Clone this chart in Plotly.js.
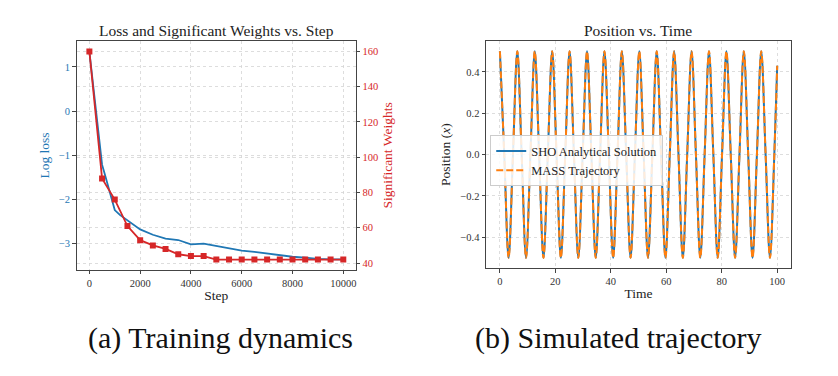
<!DOCTYPE html>
<html><head><meta charset="utf-8">
<script src="https://cdn.plot.ly/plotly-3.0.1.min.js"></script>
<style>html,body{margin:0;padding:0;background:#fff}#chart{width:838px;height:376px}</style>
</head><body><div id="chart"></div>
<script>
// (a) Training dynamics
const lossSteps = [0,100,200,300,400,500,600,700,800,900,1000,1200,1500,2000,2500,3000,3500,4000,4500,5000,5500,6000,6500,7000,7500,8000,8500,9000,9500,10000];
const logLoss   = [1.35,0.85,0.33,-0.2,-0.72,-1.22,-1.42,-1.62,-1.84,-2.05,-2.25,-2.36,-2.49,-2.69,-2.81,-2.90,-2.93,-3.03,-3.01,-3.06,-3.11,-3.17,-3.20,-3.24,-3.28,-3.31,-3.33,-3.36,-3.37,-3.37];
const weightSteps = [0,500,1000,1500,2000,2500,3000,3500,4000,4500,5000,5500,6000,6500,7000,7500,8000,8500,9000,9500,10000];
const sigWeights  = [160,88,76,61,53,50,48,45,44,44,42,42,42,42,42,42,42,42,42,42,42];
const stepTicks = [0,2000,4000,6000,8000,10000];
const stepTickLabels = ['0','2000','4000','6000','8000','10000'];
const lossTicks = [-3,-2,-1,0,1];
const weightTicks = [40,60,80,100,120,140,160];

// (b) Simulated trajectory: extrema and zero crossings
const time = [0,1.57,3.14,4.71,6.28,7.85,9.42,11.00,12.57,14.14,15.71,17.28,18.85,20.42,21.99,23.56,25.13,26.70,28.27,29.85,31.42,32.99,34.56,36.13,37.70,39.27,40.84,42.41,43.98,45.55,47.12,48.69,50.27,51.84,53.41,54.98,56.55,58.12,59.69,61.26,62.83,64.40,65.97,67.54,69.12,70.69,72.26,73.83,75.40,76.97,78.54,80.11,81.68,83.25,84.82,86.39,87.96,89.54,91.11,92.68,94.25,95.82,97.39,98.96,100];
const shoPos = [0.5,0,-0.5,0,0.5,0,-0.5,0,0.5,0,-0.5,0,0.5,0,-0.5,0,0.5,0,-0.5,0,0.5,0,-0.5,0,0.5,0,-0.5,0,0.5,0,-0.5,0,0.5,0,-0.5,0,0.5,0,-0.5,0,0.5,0,-0.5,0,0.5,0,-0.5,0,0.5,0,-0.5,0,0.5,0,-0.5,0,0.5,0,-0.5,0,0.5,0,-0.5,0,0.43];
const massPos = shoPos.slice();
const timeTicks = [0,20,40,60,80,100];
const posTicks = [-0.4,-0.2,0,0.2,0.4];

const BLUE = '#1f77b4', RED = '#d62728', ORANGE = '#ff7f0e';
const FONT = 'Liberation Serif, DejaVu Serif, serif';

const traces = [
  {x: lossSteps, y: logLoss, type:'scatter', mode:'lines', line:{color:BLUE, width:1.8}, xaxis:'x', yaxis:'y', showlegend:false},
  {x: weightSteps, y: sigWeights, type:'scatter', mode:'lines+markers', line:{color:RED, width:1.8}, marker:{symbol:'square', size:6, color:RED}, xaxis:'x', yaxis:'y2', showlegend:false},
  {x: time, y: shoPos, type:'scatter', mode:'lines', name:'SHO Analytical Solution', line:{color:BLUE, width:2, shape:'spline', smoothing:1.0}, xaxis:'x2', yaxis:'y3'},
  {x: time, y: massPos, type:'scatter', mode:'lines', name:'MASS Trajectory', line:{color:ORANGE, width:2, dash:'7px,3px', shape:'spline', smoothing:1.0}, xaxis:'x2', yaxis:'y3'}
];

const grid = {showgrid:true, gridcolor:'#d4d4d4', gridwidth:0.8, griddash:'dot', zeroline:false,
  showline:true, linecolor:'#444', linewidth:1, ticks:'outside', ticklen:3.5, tickcolor:'#444'};
const tf = (c)=>({family:FONT, size:10.5, color:c});
const lf = (c)=>({family:FONT, size:13.5, color:c});

const layout = {
  width:838, height:376, margin:{l:0,r:0,t:0,b:0},
  paper_bgcolor:'#fff', plot_bgcolor:'#fff',
  font:{family:FONT, size:11, color:'#222'},
  xaxis: Object.assign({}, grid, {domain:[0.0915,0.4248], range:[-500,10500], tickvals:stepTicks, ticktext:stepTickLabels, mirror:true, tickfont:tf('#333'),
    title:{text:'Step', font:lf('#222'), standoff:2}, anchor:'y'}),
  yaxis: Object.assign({}, grid, {domain:[0.282,0.891], range:[-3.61,1.59], tickvals:lossTicks, tickfont:tf(BLUE),
    title:{text:'Log loss', font:lf(BLUE), standoff:6}, anchor:'x'}),
  yaxis2: Object.assign({}, grid, {overlaying:'y', side:'right', range:[36.1,165.9], tickvals:weightTicks, tickfont:tf(RED),
    title:{text:'Significant Weights', font:lf(RED), standoff:5}, anchor:'x'}),
  xaxis2: Object.assign({}, grid, {domain:[0.580,0.944], range:[-5,105], tickvals:timeTicks, mirror:true, tickfont:tf('#333'),
    title:{text:'Time', font:lf('#222'), standoff:2}, anchor:'y3'}),
  yaxis3: Object.assign({}, grid, {domain:[0.2867,0.891], range:[-0.55,0.55], tickvals:posTicks, tickformat:'.1f', mirror:true, tickfont:tf('#333'),
    title:{text:'Position (<i>x</i>)', font:lf('#222'), standoff:6}, anchor:'x2'}),
  legend:{x:0.585, y:0.64, xanchor:'left', yanchor:'top', bgcolor:'rgba(255,255,255,0.85)', bordercolor:'#ccc', borderwidth:1,
    font:{family:FONT, size:12.5, color:'#222'}, tracegroupgap:0, itemwidth:30},
  annotations:[
    {text:'Loss and Significant Weights vs. Step', xref:'paper', yref:'paper', x:216/838, y:1-31/376, xanchor:'center', yanchor:'middle', showarrow:false, font:{family:FONT, size:15.5, color:'#222'}},
    {text:'Position vs. Time', xref:'paper', yref:'paper', x:638/838, y:1-31/376, xanchor:'center', yanchor:'middle', showarrow:false, font:{family:FONT, size:15.5, color:'#222'}},
    {text:'(a) Training dynamics', xref:'paper', yref:'paper', x:220/838, y:1-338/376, xanchor:'center', yanchor:'middle', showarrow:false, font:{family:FONT, size:30, color:'#111'}},
    {text:'(b) Simulated trajectory', xref:'paper', yref:'paper', x:618/838, y:1-338/376, xanchor:'center', yanchor:'middle', showarrow:false, font:{family:FONT, size:30, color:'#111'}}
  ]
};
Plotly.newPlot('chart', traces, layout, {displayModeBar:false, staticPlot:true});
</script></body></html>
